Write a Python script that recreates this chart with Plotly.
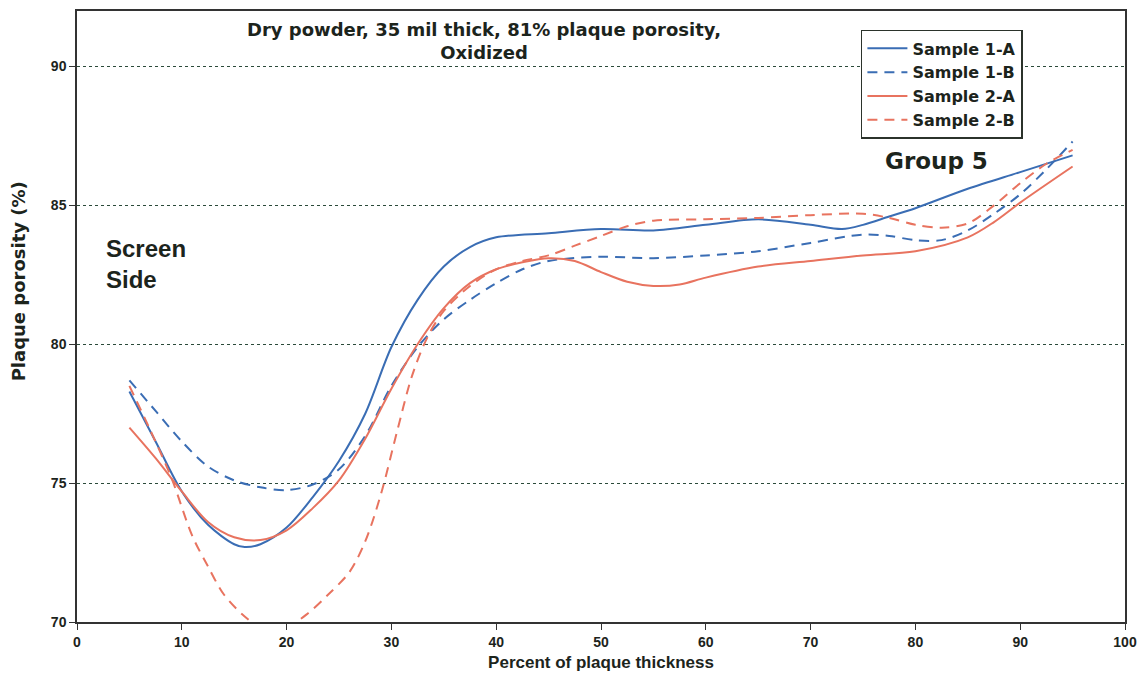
import plotly.graph_objects as go

# Percent of plaque thickness and plaque porosity for each sample
x_1a = [5, 7.5, 10, 12.5, 15, 16, 17.5, 20, 22.5, 25, 27.5, 30, 32.5, 35, 37.5, 40, 45, 50, 55, 60, 65, 70, 73, 75, 77.5, 80, 85, 90, 95]
y_1a = [78.3, 76.5, 74.7, 73.5, 72.8, 72.7, 72.8, 73.4, 74.5, 75.8, 77.5, 79.9, 81.6, 82.8, 83.5, 83.85, 84.0, 84.15, 84.1, 84.3, 84.5, 84.3, 84.15, 84.3, 84.6, 84.9, 85.6, 86.2, 86.8]

x_1b = [5, 7.5, 10, 12.5, 15, 17.5, 20, 22.5, 25, 27.5, 30, 32.5, 35, 37.5, 40, 42.5, 45, 50, 55, 60, 65, 70, 75, 77.5, 80, 82.5, 85, 87.5, 90, 92.5, 95]
y_1b = [78.7, 77.6, 76.5, 75.6, 75.1, 74.85, 74.75, 74.95, 75.5, 76.7, 78.5, 79.9, 80.9, 81.6, 82.2, 82.7, 83.0, 83.15, 83.1, 83.2, 83.35, 83.65, 83.95, 83.9, 83.75, 83.75, 84.1, 84.7, 85.4, 86.3, 87.3]

x_2a = [5, 7.5, 10, 12.5, 15, 17.5, 20, 22.5, 25, 27.5, 30, 32.5, 35, 37.5, 40, 42.5, 45, 47.5, 50, 52.5, 55, 57.5, 60, 65, 70, 75, 80, 85, 87.5, 90, 95]
y_2a = [77.0, 75.9, 74.7, 73.6, 73.05, 72.95, 73.3, 74.1, 75.1, 76.6, 78.4, 80.0, 81.3, 82.2, 82.7, 82.95, 83.1, 83.0, 82.6, 82.25, 82.1, 82.15, 82.4, 82.8, 83.0, 83.2, 83.35, 83.85, 84.4, 85.1, 86.4]

x_2b = [5, 7, 9, 11, 12.5, 14, 16, 18, 20, 22, 24, 26, 27.5, 29, 30.5, 32, 33.5, 35, 37.5, 40, 42.5, 45, 47.5, 50, 52.5, 55, 60, 65, 70, 75, 77.5, 80, 82.5, 85, 87.5, 90, 92.5, 95]
y_2b = [78.5, 76.9, 75.2, 73.1, 72.0, 71.0, 70.2, 69.7, 69.8, 70.3, 71.0, 71.8, 72.9, 74.6, 76.8, 78.9, 80.3, 81.2, 82.1, 82.7, 83.0, 83.2, 83.55, 83.9, 84.25, 84.45, 84.5, 84.55, 84.65, 84.7, 84.55, 84.3, 84.2, 84.35, 85.0, 85.8, 86.5, 87.0]

x_ticks = [0, 10, 20, 30, 40, 50, 60, 70, 80, 90, 100]
y_ticks = [70, 75, 80, 85, 90]

BLUE = "#3a6db4"
RED = "#e8735f"
INK = "#1c241c"
FONT = "Liberation Sans, Arial, sans-serif"
WIDE = "DejaVu Sans, Verdana, sans-serif"

series = [
    ("Sample 1-A", x_1a, y_1a, BLUE, "solid"),
    ("Sample 1-B", x_1b, y_1b, BLUE, "10px,7px"),
    ("Sample 2-A", x_2a, y_2a, RED, "solid"),
    ("Sample 2-B", x_2b, y_2b, RED, "10px,7px"),
]

fig = go.Figure()
for name, xs, ys, color, dash in series:
    fig.add_trace(go.Scatter(
        x=xs, y=ys, name=name, mode="lines",
        line=dict(color=color, width=2, dash=dash, shape="spline", smoothing=0.9),
    ))

fig.update_layout(
    width=1146, height=682,
    margin=dict(l=77, r=18, t=9, b=60),
    paper_bgcolor="white", plot_bgcolor="white",
    font=dict(family=FONT, color=INK, size=14, weight="bold"),
    showlegend=True,
    legend=dict(
        x=0.748, y=0.969, xanchor="left", yanchor="top",
        bgcolor="white", bordercolor="#2b332b", borderwidth=1.5,
        font=dict(family=WIDE, size=16, color=INK, weight="bold"),
        itemwidth=40, tracegroupgap=0,
    ),
    xaxis=dict(
        range=[0, 100], tickvals=x_ticks, ticks="outside", ticklen=6,
        tickcolor="#333", showline=True, linecolor="#333", linewidth=1.5,
        mirror=True, showgrid=False, zeroline=False,
        tickfont=dict(size=14, weight="bold"),
        title=dict(text="Percent of plaque thickness", standoff=8,
                   font=dict(size=17, weight="bold")),
    ),
    yaxis=dict(
        range=[70, 92], tickvals=y_ticks, ticks="outside", ticklen=6,
        tickcolor="#333", showline=True, linecolor="#333", linewidth=1.5,
        mirror=True, showgrid=True, gridcolor="#2b4a3a", griddash="dot",
        gridwidth=1, zeroline=False,
        tickfont=dict(size=14, weight="bold"),
    ),
    annotations=[
        dict(text="Dry powder, 35 mil thick, 81% plaque porosity,<br>Oxidized",
             xref="paper", yref="paper", x=0.388, y=0.99, xanchor="center",
             yanchor="top", showarrow=False, align="center",
             font=dict(family=WIDE, size=18, weight="bold")),
        dict(text="Plaque porosity (%)", xref="paper", yref="paper",
             x=-0.056, y=0.558, xanchor="center", yanchor="middle",
             textangle=-90, showarrow=False,
             font=dict(family=WIDE, size=18, weight="bold")),
        dict(text="Screen<br>Side", xref="paper", yref="paper", x=0.026, y=0.5865,
             xanchor="left", yanchor="middle", showarrow=False, align="left",
             font=dict(size=24, weight="bold")),
        dict(text="Group 5", xref="paper", yref="paper", x=0.769, y=0.755,
             xanchor="left", yanchor="middle", showarrow=False,
             font=dict(family=WIDE, size=23, weight="bold")),
    ],
)

fig.write_html("out.html")
